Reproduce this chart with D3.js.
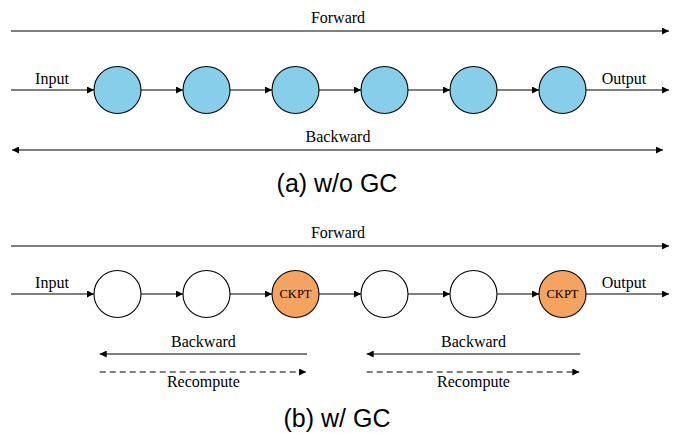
<!DOCTYPE html>
<html>
<head>
<meta charset="utf-8">
<style>
  body { margin: 0; background: #fff; }
</style>
</head>
<body>
<script src="https://cdn.jsdelivr.net/npm/d3@7"></script>
<script>
// node kinds for each panel
var nodesA = ["act", "act", "act", "act", "act", "act"];
var nodesB = ["none", "none", "ckpt", "none", "none", "ckpt"];
var captions = ["(a) w/o GC", "(b) w/ GC"];
// backward / recompute spans in panel b, in node-position units
var segments = [[-0.2, 2.13], [2.8, 5.2]];

var fills = {act: "#87CEEB", none: "#ffffff", ckpt: "#F4A460"};
var serif = "Liberation Serif";
var sans = "Liberation Sans";

var width = 678, height = 433, r = 23.5;

var svg = d3.select("body").append("svg")
    .attr("width", width)
    .attr("height", height);

var x = d3.scaleLinear()
    .domain([0, nodesA.length - 1])
    .range([117.5, 562.5]);

var defs = svg.append("defs");
defs.append("marker")
    .attr("id", "arr")
    .attr("viewBox", "0 0 10 10")
    .attr("refX", 10)
    .attr("refY", 5)
    .attr("markerWidth", 8)
    .attr("markerHeight", 7)
    .attr("markerUnits", "userSpaceOnUse")
    .attr("orient", "auto-start-reverse")
  .append("path")
    .attr("d", "M0,0L10,5L0,10z")
    .attr("fill", "#000");

var left = 11, right = 669;

function line(g, x1, x2, y, opts) {
  opts = opts || {};
  var l = g.append("line")
      .attr("x1", x1).attr("x2", x2)
      .attr("y1", y).attr("y2", y)
      .attr("stroke", "#000")
      .attr("stroke-width", 1.1);
  if (opts.end) l.attr("marker-end", "url(#arr)");
  if (opts.start) l.attr("marker-start", "url(#arr)");
  if (opts.dash) l.attr("stroke-dasharray", "6,4");
  return l;
}

// ty is the baseline
function text(g, s, tx, ty, font, size) {
  g.append("text")
      .attr("x", tx).attr("y", ty)
      .attr("text-anchor", "middle")
      .attr("font-family", font || serif)
      .attr("font-size", size || 16)
      .attr("fill", "#000")
      .text(s);
}

function chain(g, nodes, cy) {
  // input / output
  line(g, left, x(0) - r, cy, {end: true});
  text(g, "Input", 52, cy - 6.3);
  line(g, x(nodes.length - 1) + r, right, cy, {end: true});
  text(g, "Output", 624, cy - 6.3);
  // links between nodes
  for (var i = 0; i < nodes.length - 1; i++) {
    line(g, x(i) + r, x(i + 1) - r, cy, {end: true});
  }
  g.selectAll("circle")
    .data(nodes)
    .enter().append("circle")
      .attr("cx", function(d, i) { return x(i); })
      .attr("cy", cy)
      .attr("r", r)
      .attr("fill", function(d) { return fills[d]; })
      .attr("stroke", "#000")
      .attr("stroke-width", 1.1);
  nodes.forEach(function(d, i) {
    if (d === "ckpt") text(g, "CKPT", x(i), cy + 4, serif, 12.5);
  });
}

// panel (a)
var ga = svg.append("g");
line(ga, left, right, 31, {end: true});
text(ga, "Forward", 338, 23.3);
chain(ga, nodesA, 90);
line(ga, 12, 663, 150, {start: true, end: true});
text(ga, "Backward", 338, 142);
text(ga, captions[0], 337, 191.5, sans, 25);

// panel (b)
var gb = svg.append("g");
line(gb, left, right, 246, {end: true});
text(gb, "Forward", 338, 237.5);
chain(gb, nodesB, 294);
segments.forEach(function(s) {
  var x1 = x(s[0]), x2 = x(s[1]);
  line(gb, x2, x1, 354, {end: true});
  text(gb, "Backward", (x1 + x2) / 2, 346.5);
  line(gb, x1, x2 - 1, 372, {end: true, dash: true});
  text(gb, "Recompute", (x1 + x2) / 2, 386.7);
});
text(gb, captions[1], 337, 427.3, sans, 25);
</script>
</body>
</html>
